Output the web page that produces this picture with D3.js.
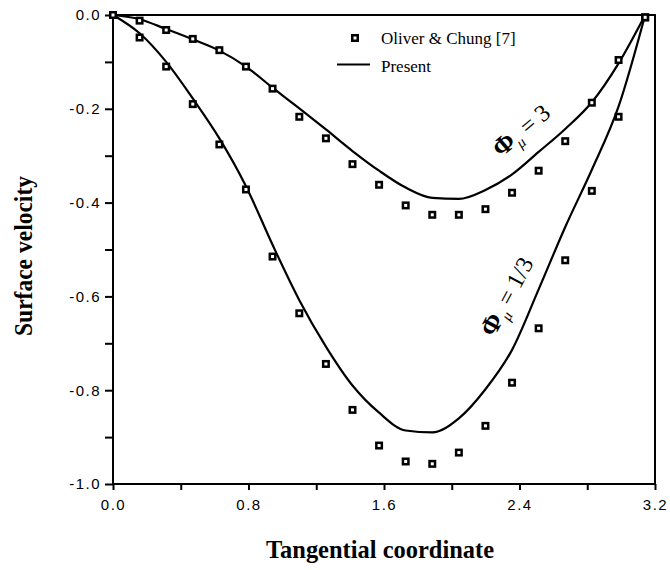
<!DOCTYPE html>
<html>
<head>
<meta charset="utf-8">
<script src="https://cdn.jsdelivr.net/npm/d3@7"></script>
<style>
  body { margin: 0; background: #fff; }
  .tick text { font-family: "Liberation Sans", Arial, sans-serif; font-size: 15px; letter-spacing: 1.5px; fill: #000; }
  .axis path, .axis line { stroke: #000; stroke-width: 2; }
</style>
</head>
<body>
<script>
var xs = [0, 0.157, 0.314, 0.471, 0.628, 0.785, 0.942, 1.100, 1.257, 1.414, 1.571,
          1.728, 1.885, 2.042, 2.199, 2.356, 2.513, 2.670, 2.827, 2.985, 3.142];

// Oliver & Chung [7] (squares)
var oc_phi3 = [0, -0.012, -0.032, -0.051, -0.075, -0.110, -0.157, -0.217, -0.263, -0.318, -0.362,
               -0.406, -0.426, -0.426, -0.414, -0.379, -0.332, -0.269, -0.187, -0.096, -0.005];
var oc_phi13 = [0, -0.048, -0.110, -0.190, -0.276, -0.372, -0.515, -0.636, -0.744, -0.842, -0.918,
                -0.952, -0.957, -0.933, -0.876, -0.784, -0.668, -0.523, -0.375, -0.217, -0.005];

// Present (lines)
var pr_phi3 = [0, -0.009, -0.030, -0.052, -0.076, -0.110, -0.155, -0.199, -0.244, -0.290, -0.332,
               -0.368, -0.390, -0.392, -0.373, -0.340, -0.292, -0.243, -0.186, -0.103, 0];
var pr_phi13 = [0, -0.039, -0.100, -0.178, -0.263, -0.365, -0.490, -0.608, -0.707, -0.790, -0.848,
                -0.886, -0.890, -0.860, -0.798, -0.714, -0.585, -0.452, -0.330, -0.195, 0];

var x_ticks = [0, 0.4, 0.8, 1.2, 1.6, 2.0, 2.4, 2.8, 3.2];
var x_labels = [0, 0.8, 1.6, 2.4, 3.2];
var y_ticks = [0, -0.1, -0.2, -0.3, -0.4, -0.5, -0.6, -0.7, -0.8, -0.9, -1.0];
var y_labels = [0, -0.2, -0.4, -0.6, -0.8, -1.0];

var margin = {top: 15, right: 15, bottom: 86, left: 113},
    width = 670 - margin.left - margin.right,
    height = 570 - margin.top - margin.bottom;

var x_scale = d3.scaleLinear().domain([0, 3.2]).range([0, width]),
    y_scale = d3.scaleLinear().domain([-1.0, 0]).range([height, 0]);

function label_for(list) {
  return function(d) {
    var hit = list.some(function(v) { return Math.abs(v - d) < 1e-9; });
    return hit ? d.toFixed(1) : "";
  };
}
var x_axis = d3.axisBottom(x_scale).tickValues(x_ticks).tickSize(6).tickPadding(9)
    .tickFormat(label_for(x_labels));
var y_axis = d3.axisLeft(y_scale).tickValues(y_ticks).tickSize(8).tickPadding(4)
    .tickFormat(label_for(y_labels));

var svg = d3.select("body").append("svg")
    .attr("width", 670)
    .attr("height", 570)
  .append("g")
    .attr("transform", "translate(" + margin.left + "," + margin.top + ")");

// frame (top and right)
svg.append("path")
    .attr("d", "M0,0H" + width + "V" + height)
    .attr("fill", "none")
    .attr("stroke", "#000")
    .attr("stroke-width", 2);

svg.append("g")
    .attr("class", "x axis")
    .attr("transform", "translate(0," + height + ")")
    .call(x_axis);

svg.append("g")
    .attr("class", "y axis")
    .call(y_axis);

svg.selectAll(".axis .domain").attr("d", function() {
  return d3.select(this.parentNode).classed("x") ? "M0,0H" + width : "M0,0V" + height;
});

// axis titles
svg.append("text")
    .attr("x", 266 - margin.left)
    .attr("y", 558 - margin.top)
    .attr("textLength", 228)
    .attr("lengthAdjust", "spacingAndGlyphs")
    .style("font-family", "'Liberation Serif', 'Times New Roman', serif")
    .style("font-weight", "bold")
    .style("font-size", "25px")
    .text("Tangential  coordinate");

svg.append("text")
    .attr("transform", "translate(" + (32 - margin.left) + "," + (336 - margin.top) + ") rotate(-90)")
    .attr("textLength", 160)
    .attr("lengthAdjust", "spacingAndGlyphs")
    .style("font-family", "'Liberation Serif', 'Times New Roman', serif")
    .style("font-weight", "bold")
    .style("font-size", "25px")
    .text("Surface  velocity");

// present lines
var line = d3.line()
    .x(function(d) { return x_scale(d[0]); })
    .y(function(d) { return y_scale(d[1]); })
    .curve(d3.curveMonotoneX);

[pr_phi3, pr_phi13].forEach(function(series) {
  svg.append("path")
      .datum(xs.map(function(x, i) { return [x, series[i]]; }))
      .attr("fill", "none")
      .attr("stroke", "#000")
      .attr("stroke-width", 2.2)
      .attr("d", line);
});

// squares
function draw_square(g, cx, cy) {
  g.append("rect").attr("x", cx - 4).attr("y", cy - 4).attr("width", 8).attr("height", 8).attr("fill", "#000");
  g.append("rect").attr("x", cx - 1.5).attr("y", cy - 1.5).attr("width", 3).attr("height", 3).attr("fill", "#fff");
}

[oc_phi3, oc_phi13].forEach(function(series) {
  var g = svg.append("g");
  xs.forEach(function(x, i) { draw_square(g, x_scale(x), y_scale(series[i])); });
});

// legend
var legend = svg.append("g").attr("transform", "translate(" + (355 - margin.left) + "," + (38 - margin.top) + ")");
draw_square(legend, 0, 0);
legend.append("line")
    .attr("x1", -18).attr("x2", 15)
    .attr("y1", 26.5).attr("y2", 26.5)
    .attr("stroke", "#000").attr("stroke-width", 2.2);
legend.selectAll("text.leg")
    .data(["Oliver & Chung [7]", "Present"])
  .enter().append("text")
    .attr("x", 26)
    .attr("y", function(d, i) { return 6 + i * 27.5; })
    .style("font-family", "'Liberation Serif', 'Times New Roman', serif")
    .style("font-size", "17px")
    .text(function(d) { return d; });

// curve annotations
function phi_label(px, py, angle, rest) {
  var t = svg.append("text")
      .attr("transform", "translate(" + (px - margin.left) + "," + (py - margin.top) + ") rotate(" + angle + ")")
      .style("font-family", "'Liberation Serif', 'Times New Roman', serif")
      .style("font-size", "24px");
  t.append("tspan").style("font-weight", "bold").style("font-size", "26px").text("\u03A6");
  t.append("tspan").attr("dy", 6).style("font-size", "15px").style("font-style", "italic").text("\u03BC");
  t.append("tspan").attr("dy", -6).text(" = " + rest);
}
phi_label(501, 158, -40, "3");
phi_label(494, 338, -62, "1/3");
</script>
</body>
</html>
